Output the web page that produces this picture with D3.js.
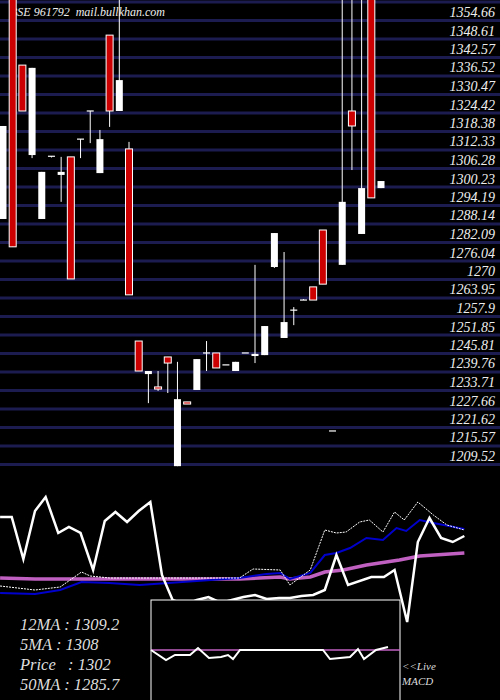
<!DOCTYPE html><html><head><meta charset="utf-8"><script src="https://cdn.jsdelivr.net/npm/d3@7"></script>
<style>body{margin:0;background:#000}</style></head><body><svg id="c" width="500" height="700"></svg><script>
const priceTicks=[1354.66,1348.61,1342.57,1336.52,1330.47,1324.42,1318.38,1312.33,1306.28,1300.23,1294.19,1288.14,1282.09,1276.04,1270,1263.95,1257.9,1251.85,1245.81,1239.76,1233.71,1227.66,1221.62,1215.57,1209.52];
// open, high, low, close
const opens =[1287.0,1362,1337.3,1307.9,1287.0,1307.5,1301.4,1307.3,1313.1,1322.3,1302.0,1347.1,1322.3,1309.9,1247.1,1236.3,1232.1,1241.9,1206.2,1227.2,1231.1,1243.2,1243.2,1239.3,1237.3,1243.2,1242.2,1242.5,1271.3,1248.1,1257.2,1260.5,1264.8,1283.4,1217.7,1272.0,1322.3,1282.1,1362,1297.1];
const highs =[1317.4,1362,1337.3,1336.4,1302.4,1307.5,1307.3,1307.3,1313.1,1322.3,1316.1,1347.1,1362,1312.2,1247.1,1237.3,1237.3,1241.9,1240.3,1227.2,1241.2,1247.1,1243.2,1239.3,1240.3,1243.2,1272.0,1252.0,1282.4,1276.2,1258.2,1260.8,1264.8,1283.4,1217.7,1362,1362,1362,1362,1299.4];
const lows  =[1287.0,1277.9,1322.3,1306.9,1287.0,1307.1,1292.6,1267.4,1306.9,1311.8,1302.0,1317.1,1322.3,1262.2,1237.3,1226.8,1230.8,1230.1,1206.2,1226.5,1231.1,1237.3,1238.3,1239.3,1237.3,1243.2,1239.9,1242.5,1271.0,1248.1,1252.3,1260.5,1260.5,1265.7,1217.7,1272.0,1303.0,1282.1,1293.9,1297.1];
const closes=[1317.4,1277.9,1322.3,1336.4,1302.4,1307.1,1302.4,1267.4,1313.1,1322.3,1313.1,1322.3,1332.4,1262.2,1237.3,1237.3,1231.4,1239.9,1228.1,1226.5,1241.2,1243.2,1238.3,1239.3,1240.3,1243.2,1242.9,1252.0,1282.4,1253.3,1256.9,1260.5,1260.5,1265.7,1217.7,1292.6,1317.4,1297.1,1293.9,1299.4];
// indicator lines: [candle index, level]
const priceLine=[[-0.3,183],[0.9,183],[2.1,141],[3.3,189],[4.4,203],[5.7,167],[6.8,173],[8.0,167],[9.3,130],[10.5,179],[11.6,188],[12.8,178],[14.0,189],[15.2,198],[16.4,125],[17.5,100],[18.8,95],[20.0,100],[21.2,103],[22.5,97],[23.6,100],[24.8,103],[26.0,105],[27.2,101],[28.5,102],[29.6,102],[30.8,104],[32.0,105],[33.2,110],[34.4,145],[35.6,115],[38.0,123],[39.3,123],[40.4,130],[41.7,78],[42.8,158],[44.0,182],[45.2,162],[46.4,158],[47.6,164]];
const ma12=[[-0.3,114],[3.3,110],[5.9,113],[8.1,128],[9.0,124],[11.0,122],[24.4,122],[25.8,131],[28.6,130],[29.6,115],[31.7,130],[33.2,170],[34.4,167],[35.4,168],[36.8,178],[37.8,180],[39.2,168],[40.4,188],[41.4,180],[42.8,198],[44.4,185],[45.8,175],[47.6,170]];
const ma26=[[-0.3,107],[3.3,106],[5.9,110],[8.1,118],[11.0,117],[14.1,115],[24.4,122],[27.2,126],[28.6,127],[29.6,121],[31.7,127],[33.2,145],[34.4,147],[35.8,152],[37.5,162],[39.2,160],[40.6,172],[41.6,169],[43.0,180],[44.4,177],[47.6,171]];
const ma50=[[-0.3,122],[3.3,121],[11.0,121],[24.4,121],[28.6,123],[29.6,121],[31.7,123],[33.2,128],[35.1,130],[37.5,135],[40.9,140],[43.0,144],[47.6,147]];
const macd=[[151,0],[166,-10],[175,-5],[190,-5],[198,2],[209,-8],[221,-7],[228,-5],[233,-9],[240,0],[323,0],[330,-9],[350,-7],[358,1],[364,-9],[376,0],[388,3]];
const legend=["12MA : 1309.2","5MA : 1308","Price   : 1302","50MA : 1285.7"];

const svg=d3.select("#c");
svg.append("rect").attr("width",500).attr("height",700).attr("fill","#000");
const y=d3.scaleLinear().domain([1354.66,1209.52]).range([12,456]);
const x=d3.scaleLinear().domain([0,39]).range([3,381]);
// grid
svg.append("g").selectAll("line").data(d3.range(26)).join("line")
 .attr("x1",0).attr("x2",500).attr("y1",i=>y(priceTicks[0])-10+18.5*i).attr("y2",i=>y(priceTicks[0])-10+18.5*i)
 .attr("stroke","#1c1c50").attr("stroke-width",3);
svg.append("g").selectAll("text").data(priceTicks).join("text")
 .attr("x",495).attr("y",d=>y(d)+5).attr("text-anchor","end").attr("fill","#eee")
 .attr("font-family","Liberation Serif").attr("font-style","italic").attr("font-size",14).text(d=>d);
svg.append("text").attr("x",10).attr("y",16).attr("fill","#eee").attr("font-family","Liberation Serif")
 .attr("font-style","italic").attr("font-size",12).attr("xml:space","preserve").text("BSE 961792  mail.bullkhan.com");
// candles
const c=svg.append("g");
opens.forEach((o,i)=>{
 const cl=closes[i],h=highs[i],l=lows[i],cx=x(i),up=cl>=o;
 c.append("line").attr("x1",cx).attr("x2",cx).attr("y1",y(h)).attr("y2",y(l)).attr("stroke","#fff").attr("stroke-width",1);
 const top=y(Math.max(o,cl)),bot=y(Math.min(o,cl));
 if(bot-top<1.5){c.append("line").attr("x1",cx-3.5).attr("x2",cx+3.5).attr("y1",top).attr("y2",top).attr("stroke","#fff").attr("stroke-width",1.2);}
 else c.append("rect").attr("x",cx-3.5).attr("y",top).attr("width",7).attr("height",bot-top)
  .attr("fill",up?"#fff":"#cc0000").attr("stroke","#fff").attr("stroke-width",up?0:1);
});
// indicators
const yi=d3.scaleLinear().domain([0,230]).range([700,470]);
const ln=d3.line().x(d=>x(d[0])).y(d=>yi(d[1]));
svg.append("path").attr("d",ln(ma50)).attr("fill","none").attr("stroke","#c060c0").attr("stroke-width",3.5);
svg.append("path").attr("d",ln(ma26)).attr("fill","none").attr("stroke","#0000cc").attr("stroke-width",2);
svg.append("path").attr("d",ln(ma12)).attr("fill","none").attr("stroke","#fff").attr("stroke-width",1).attr("stroke-dasharray","2,1");
svg.append("path").attr("d",ln(priceLine)).attr("fill","none").attr("stroke","#fff").attr("stroke-width",2.5);
// MACD box
svg.append("rect").attr("x",151).attr("y",600).attr("width",249).attr("height",105).attr("fill","#000").attr("stroke","#fff").attr("stroke-width",1);
const ym=d3.scaleLinear().domain([0,10]).range([650,640]);
svg.append("line").attr("x1",151).attr("x2",400).attr("y1",ym(0)).attr("y2",ym(0)).attr("stroke","#c060c0").attr("stroke-width",1.5);
svg.append("path").attr("d",d3.line().x(d=>d[0]).y(d=>ym(d[1]))(macd)).attr("fill","none").attr("stroke","#fff").attr("stroke-width",2);
svg.append("g").selectAll("text").data(legend).join("text").attr("x",20).attr("y",(d,i)=>630+20*i)
 .attr("fill","#ddd").attr("font-family","Liberation Serif").attr("font-style","italic").attr("font-size",16.5).attr("xml:space","preserve").text(d=>d);
svg.append("text").attr("x",402).attr("y",670).attr("fill","#ddd").attr("font-family","Liberation Serif").attr("font-style","italic").attr("font-size",11).text("<<Live");
svg.append("text").attr("x",402).attr("y",685).attr("fill","#ddd").attr("font-family","Liberation Serif").attr("font-style","italic").attr("font-size",11).text("MACD");
</script></body></html>
